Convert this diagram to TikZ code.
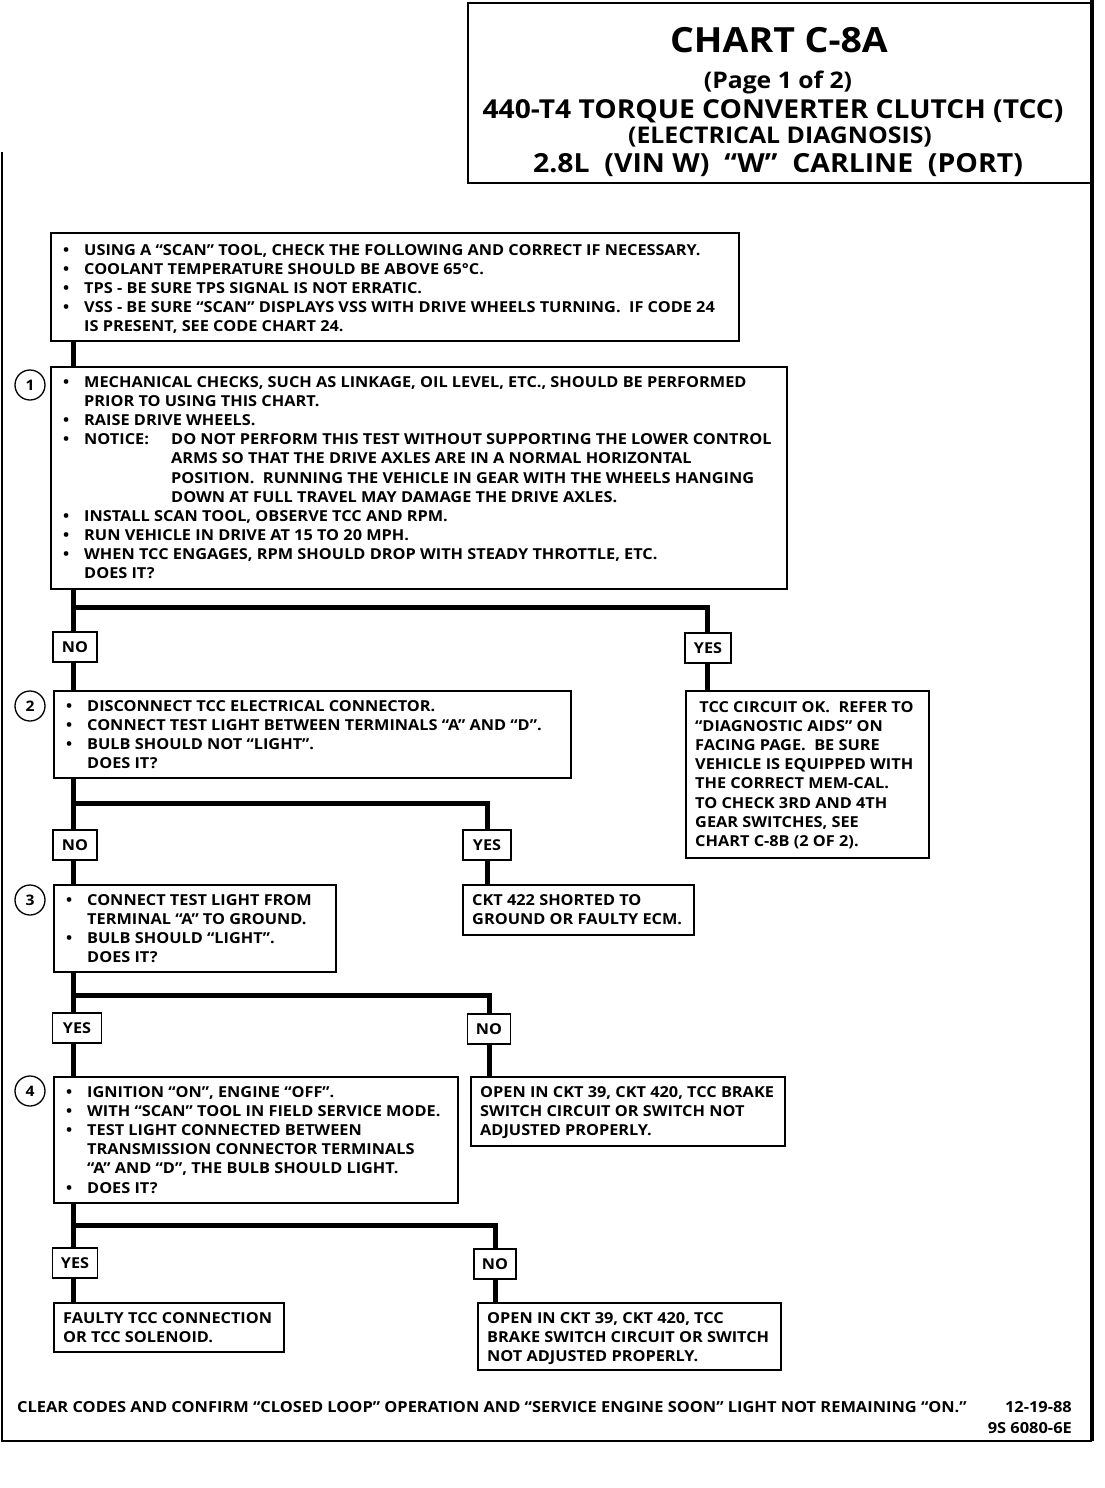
\documentclass[tikz,border=0pt]{standalone}
\usepackage{fontspec}
\setmainfont{Open Sans}[FakeStretch=1.08]
\newcommand\bodyf{\bfseries\fontsize{15.1}{19.1}\selectfont}
\newcommand\footf{\bfseries\fontsize{15.2}{19}\selectfont}
\newcommand\B{\hspace*{3pt}\makebox[21pt][l]{•}}
\newcommand\N{\hspace*{24pt}}
% name, x1, y1, x2, y2, baseline offset of first line, content
\newcommand\flowbox[7]{%
  \pgfmathsetmacro\bw{#4-#2}%
  \pgfmathsetmacro\bh{#5-#3}%
  \node[fbox, minimum width=\bw pt, minimum height=\bh pt, anchor=north west] (#1) at (#2,#3) {};
  \node[ftext, anchor=base west] (#1t) at ($(#1.north west)+(10,#6)$) {\begin{tabular}[t]{@{}l@{}}#7\end{tabular}};}
\usetikzlibrary{calc}
\begin{document}
\begin{tikzpicture}[x=1pt,y=-1pt,
  fbox/.style={draw, line width=1.8pt, fill=white, inner sep=0pt},
  ftext/.style={inner sep=0pt, align=left, font=\bodyf},
  lbl/.style={draw, line width=1.8pt, fill=white, minimum height=30pt, inner sep=0pt, font=\bfseries\fontsize{15}{16}\selectfont},
  conn/.style={line width=5pt},
  num/.style={circle, draw, line width=1.3pt, minimum size=30pt, inner sep=0pt, font=\bfseries\fontsize{14.5}{16}\selectfont},
  frame/.style={line width=2.5pt},
  ttl/.style={font=\bfseries\fontsize{#1}{#1}\selectfont, inner sep=0pt}]
\useasboundingbox (0,0) rectangle (1104,1488);
% frame and title box
\draw[frame] (2,152) -- (2,1441) -- (1092,1441);
\draw[line width=3.5pt] (1092,1441) -- (1092,0);
\draw[line width=2pt] (1092,183) -- (468,183) -- (468,3) -- (1092,3);
\node[ttl=34.7] (t1) at (779,40) {CHART C-8A};
\node[ttl=22.9] (t2) at (778,82) {(Page 1 of 2)};
\node[ttl=26.1] (t3) at (773,111) {440-T4 TORQUE CONVERTER CLUTCH (TCC)};
\node[ttl=23] (t4) at (780,137) {(ELECTRICAL DIAGNOSIS)};
\node[ttl=26.3] (t5) at (778,165) {2.8L\ \ (VIN W)\ \ “W”\ \ CARLINE\ \ (PORT)};
% trunk coordinate
\coordinate (T) at (73,0);
% boxes
\flowbox{b0}{50}{232}{738}{340}{23.5}{\B USING A “SCAN” TOOL, CHECK THE FOLLOWING AND CORRECT IF NECESSARY.\\
\B COOLANT TEMPERATURE SHOULD BE ABOVE 65°C.\\
\B TPS - BE SURE TPS SIGNAL IS NOT ERRATIC.\\
\B VSS - BE SURE “SCAN” DISPLAYS VSS WITH DRIVE WHEELS TURNING.\ \ IF CODE 24\\
\N IS PRESENT, SEE CODE CHART 24.}
\flowbox{b1}{50}{366}{786}{588}{21.5}{\B MECHANICAL CHECKS, SUCH AS LINKAGE, OIL LEVEL, ETC., SHOULD BE PERFORMED\\
\N PRIOR TO USING THIS CHART.\\
\B RAISE DRIVE WHEELS.\\
\B \makebox[87pt][l]{NOTICE:}DO NOT PERFORM THIS TEST WITHOUT SUPPORTING THE LOWER CONTROL\\
\N \hspace*{87pt}ARMS SO THAT THE DRIVE AXLES ARE IN A NORMAL HORIZONTAL\\
\N \hspace*{87pt}POSITION.\ \ RUNNING THE VEHICLE IN GEAR WITH THE WHEELS HANGING\\
\N \hspace*{87pt}DOWN AT FULL TRAVEL MAY DAMAGE THE DRIVE AXLES.\\
\B INSTALL SCAN TOOL, OBSERVE TCC AND RPM.\\
\B RUN VEHICLE IN DRIVE AT 15 TO 20 MPH.\\
\B WHEN TCC ENGAGES, RPM SHOULD DROP WITH STEADY THROTTLE, ETC.\\
\N DOES IT?}
\flowbox{b2}{53}{690}{570}{777}{21.5}{\B DISCONNECT TCC ELECTRICAL CONNECTOR.\\
\B CONNECT TEST LIGHT BETWEEN TERMINALS “A” AND “D”.\\
\B BULB SHOULD NOT “LIGHT”.\\
\N DOES IT?}
\flowbox{b3}{53}{884}{335}{971}{21.5}{\B CONNECT TEST LIGHT FROM\\
\N TERMINAL “A” TO GROUND.\\
\B BULB SHOULD “LIGHT”.\\
\N DOES IT?}
\flowbox{b4}{53}{1076}{457}{1202}{21.5}{\B IGNITION “ON”, ENGINE “OFF”.\\
\B WITH “SCAN” TOOL IN FIELD SERVICE MODE.\\
\B TEST LIGHT CONNECTED BETWEEN\\
\N TRANSMISSION CONNECTOR TERMINALS\\
\N “A” AND “D”, THE BULB SHOULD LIGHT.\\
\B DOES IT?}
\flowbox{ok}{685}{690}{928}{857}{22.5}{\ TCC CIRCUIT OK.\ \ REFER TO\\
“DIAGNOSTIC AIDS” ON\\
FACING PAGE.\ \ BE SURE\\
VEHICLE IS EQUIPPED WITH\\
THE CORRECT MEM-CAL.\\
TO CHECK 3RD AND 4TH\\
GEAR SWITCHES, SEE\\
CHART C-8B (2 OF 2).}
\flowbox{ckt}{462}{884}{693}{934}{21.5}{CKT 422 SHORTED TO\\
GROUND OR FAULTY ECM.}
\flowbox{op1}{470}{1076}{784}{1145}{21.5}{OPEN IN CKT 39, CKT 420, TCC BRAKE\\
SWITCH CIRCUIT OR SWITCH NOT\\
ADJUSTED PROPERLY.}
\flowbox{fa}{53}{1302}{283}{1351}{21.5}{FAULTY TCC CONNECTION\\
OR TCC SOLENOID.}
\flowbox{op2}{477}{1302}{780}{1369}{21.5}{OPEN IN CKT 39, CKT 420, TCC\\
BRAKE SWITCH CIRCUIT OR SWITCH\\
NOT ADJUSTED PROPERLY.}
% number circles
\node[num] (c1) at (30,385) {1};
\node[num] (c2) at (30,706) {2};
\node[num] (c3) at (30,900) {3};
\node[num] (c4) at (30,1091) {4};
% junction coordinates
\coordinate (j1) at (73,607);
\coordinate (j2) at (73,803);
\coordinate (j3) at (73,995);
\coordinate (j4) at (73,1225);
% connectors (drawn before labels)
\draw[conn] (b0.south -| T) -- (b1.north -| T);
\draw[conn] (b1.south -| T) -- (b2.north -| T);
\draw[conn] (j1) -| (ok.north -| 707,0);
\draw[conn] (b2.south -| T) -- (b3.north -| T);
\draw[conn] (j2) -| (ckt.north -| 487,0);
\draw[conn] (b3.south -| T) -- (b4.north -| T);
\draw[conn] (j3) -| (op1.north -| 489,0);
\draw[conn] (b4.south -| T) -- (fa.north -| T);
\draw[conn] (j4) -| (op2.north -| 495,0);
% labels
\node[lbl, minimum width=44pt] (no1) at (75,647) {NO};
\node[lbl, minimum width=46pt] (yes1) at (708,648) {YES};
\node[lbl, minimum width=44pt] (no2) at (75,845) {NO};
\node[lbl, minimum width=48pt] (yes2) at (487,845) {YES};
\node[lbl, minimum width=49pt] (yes3) at (77,1028) {YES};
\node[lbl, minimum width=43pt] (no3) at (489,1029) {NO};
\node[lbl, minimum width=45pt] (yes4) at (75,1263) {YES};
\node[lbl, minimum width=42pt] (no4) at (495,1264) {NO};
% footer
\node[anchor=west, inner sep=0pt, font=\footf] (foot) at (17,1407) {CLEAR CODES AND CONFIRM “CLOSED LOOP” OPERATION AND “SERVICE ENGINE SOON” LIGHT NOT REMAINING “ON.”};
\node[anchor=east, inner sep=0pt, font=\footf] (date) at (1072,1407) {12-19-88};
\node[anchor=east, inner sep=0pt, font=\footf] (code) at (1072,1428) {9S 6080-6E};
\end{tikzpicture}
\end{document}
